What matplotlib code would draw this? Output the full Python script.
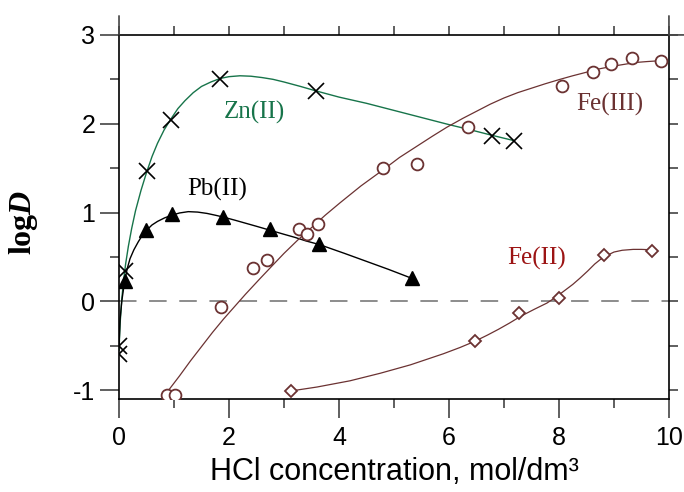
import numpy as np
import matplotlib
matplotlib.use("Agg")
import matplotlib.pyplot as plt
from matplotlib.ticker import MultipleLocator

# measured points
zn_x = [0.0, 0.0, 0.1, 0.5, 0.94, 1.84, 3.58, 6.78, 7.18]
zn_y = [-0.5, -0.59, 0.34, 1.47, 2.04, 2.50, 2.37, 1.86, 1.81]
pb_x = [0.1, 0.49, 0.96, 1.89, 2.75, 3.64, 5.32]
pb_y = [0.23, 0.80, 0.98, 0.95, 0.81, 0.65, 0.26]
fe3_x = [0.87, 1.02, 1.85, 2.43, 2.70, 3.28, 3.42, 3.61, 4.80, 5.41, 6.34, 8.05, 8.61, 8.95, 9.33, 9.85]
fe3_y = [-1.06, -1.06, -0.06, 0.38, 0.46, 0.82, 0.755, 0.87, 1.50, 1.55, 1.96, 2.42, 2.58, 2.67, 2.74, 2.71]
fe2_x = [3.12, 6.47, 7.28, 8.0, 8.81, 9.70]
fe2_y = [-1.01, -0.45, -0.13, 0.04, 0.52, 0.57]

# fitted curves
zn_fit_x = [0.0, 0.02, 0.05, 0.08, 0.12, 0.17, 0.23, 0.3, 0.4, 0.5, 0.6, 0.7, 0.82, 0.94,
            1.07, 1.2, 1.35, 1.5, 1.67, 1.84, 2.0, 2.2, 2.4, 2.6, 2.8, 3.0, 3.3, 3.58,
            4.0, 4.5, 5.0, 5.5, 6.0, 6.4, 6.78, 7.18]
zn_fit_y = [-0.55, -0.25, 0.02, 0.22, 0.42, 0.62, 0.82, 1.02, 1.25, 1.45, 1.63, 1.78, 1.93, 2.05,
            2.17, 2.26, 2.35, 2.42, 2.47, 2.51, 2.53, 2.54, 2.535, 2.52, 2.50, 2.47, 2.42, 2.37,
            2.30, 2.23, 2.15, 2.07, 1.99, 1.93, 1.87, 1.81]
pb_fit_x = [0.0, 0.02, 0.05, 0.1, 0.15, 0.2, 0.27, 0.35, 0.42, 0.5, 0.6, 0.7, 0.83, 0.96,
            1.1, 1.26, 1.43, 1.6, 1.75, 1.89, 2.1, 2.3, 2.5, 2.75, 3.0, 3.2, 3.4, 3.64, 4.1, 4.5, 4.9, 5.32]
pb_fit_y = [-0.5, -0.2, 0.0, 0.22, 0.37, 0.48, 0.58, 0.67, 0.74, 0.80, 0.86, 0.90, 0.94, 0.97,
            0.995, 1.01, 1.005, 0.99, 0.97, 0.95, 0.915, 0.88, 0.845, 0.80, 0.755, 0.72, 0.68, 0.64,
            0.54, 0.45, 0.36, 0.26]
fe3_fit_x = [0.89, 1.1, 1.3, 1.5, 1.7, 1.9, 2.1, 2.3, 2.57, 2.8, 3.0, 3.25, 3.5, 3.75, 4.02,
             4.4, 4.8, 5.1, 5.4, 5.7, 5.96, 6.25, 6.5, 6.75, 7.0, 7.25, 7.5, 7.75, 8.02, 8.25,
             8.5, 8.75, 9.0, 9.2, 9.4, 9.6, 9.85]
fe3_fit_y = [-1.01, -0.84, -0.67, -0.51, -0.35, -0.20, -0.06, 0.08, 0.26, 0.41, 0.54, 0.69, 0.83,
             0.97, 1.11, 1.30, 1.48, 1.62, 1.74, 1.86, 1.96, 2.06, 2.14, 2.22, 2.29, 2.35, 2.40,
             2.45, 2.50, 2.54, 2.58, 2.62, 2.65, 2.67, 2.69, 2.70, 2.71]
fe2_fit_x = [3.12, 3.6, 4.2, 4.75, 5.3, 5.9, 6.2, 6.47, 6.7, 6.9, 7.1, 7.3, 7.55, 7.78, 7.95,
             8.1, 8.25, 8.38, 8.52, 8.65, 8.75, 8.85, 9.0, 9.15, 9.35, 9.5, 9.70]
fe2_fit_y = [-1.01, -0.965, -0.895, -0.81, -0.715, -0.59, -0.52, -0.45, -0.38, -0.315, -0.245,
             -0.17, -0.09, -0.02, 0.05, 0.12, 0.19, 0.26, 0.34, 0.42, 0.47, 0.51, 0.555, 0.575,
             0.585, 0.585, 0.58]

green = '#17744a'
brown = '#6b3232'
darkred = '#9c1414'

plt.rcParams['font.family'] = ['Liberation Sans Narrow', 'Liberation Sans', 'DejaVu Sans']
plt.rcParams['axes.unicode_minus'] = False
plt.rcParams['mathtext.fontset'] = 'custom'
plt.rcParams['mathtext.bf'] = 'Liberation Serif:bold'
plt.rcParams['mathtext.bfit'] = 'Liberation Serif:bold:italic'
plt.rcParams['mathtext.rm'] = 'Liberation Serif'

fig = plt.figure(figsize=(6.84, 4.92), dpi=100)
ax = fig.add_axes([0.174, 0.189, 0.804, 0.740])

ax.axhline(0, color='#8c8c8c', lw=1.4, ls=(0, (9, 6.5)), zorder=1)

ax.plot(zn_fit_x, zn_fit_y, color=green, lw=1.0, zorder=2)
ax.plot(pb_fit_x, pb_fit_y, color='black', lw=1.0, zorder=2)
ax.plot(fe3_fit_x, fe3_fit_y, color=brown, lw=0.9, zorder=2)
ax.plot(fe2_fit_x, fe2_fit_y, color=brown, lw=0.9, zorder=2)

ax.plot(zn_x, zn_y, ls='none', marker='x', ms=11, mew=1.2, color='black', zorder=3)
ax.plot(pb_x, pb_y, ls='none', marker='^', ms=9.5, color='black', zorder=3)
ax.plot(fe3_x, fe3_y, ls='none', marker='o', ms=8.5, mew=1.3, mfc='white', mec=brown, zorder=3)
ax.plot(fe2_x, fe2_y, ls='none', marker='D', ms=6.5, mew=1.3, mfc='white', mec=brown, zorder=3)

tfont = dict(family='Liberation Serif', fontsize=18)
ax.text(2.46, 2.13, 'Zn(II)', color=green, ha='center', va='center', **tfont)
ax.text(1.78, 1.26, 'Pb(II)', color='black', ha='center', va='center', **tfont)
ax.text(8.93, 2.22, 'Fe(III)', color=brown, ha='center', va='center', **tfont)
ax.text(7.6, 0.48, 'Fe(II)', color=darkred, ha='center', va='center', **tfont)

ax.set_xlim(0, 10)
ax.set_ylim(-1.1, 3.0)
ax.xaxis.set_major_locator(MultipleLocator(2))
ax.xaxis.set_minor_locator(MultipleLocator(1))
ax.yaxis.set_major_locator(MultipleLocator(1))
ax.yaxis.set_minor_locator(MultipleLocator(0.5))

for s in ax.spines.values():
    s.set_linewidth(1.2)
ax.tick_params(which='both', direction='out', color='#444444', width=1.2,
               top=True, right=True, labelsize=18)
ax.tick_params(which='major', length=13.7)
ax.tick_params(which='minor', length=6.5)
ax.tick_params(axis='x', which='major', pad=6)
# top/right ticks are short
for t in ax.xaxis.get_major_ticks() + ax.xaxis.get_minor_ticks():
    t.tick2line.set_markersize(6.5)
for t in ax.yaxis.get_major_ticks() + ax.yaxis.get_minor_ticks():
    t.tick2line.set_markersize(6.5)

# corner extensions of the frame
ext = 13.7
for xy, off in [((0, 1), (0, ext)), ((1, 1), (0, ext)), ((1, 1), (ext, 0))]:
    ax.annotate('', xy=xy, xycoords='axes fraction', xytext=off,
                textcoords='offset points',
                arrowprops=dict(arrowstyle='-', lw=1.2, color='#444444',
                                shrinkA=0, shrinkB=0))

ax.set_xlabel('HCl concentration, mol/dm³', fontsize=22, labelpad=5)
ax.set_ylabel(r'$\mathbf{log}\mathbfit{D}$', fontsize=23)
ax.yaxis.set_label_coords(-0.143, 0.486)

fig.savefig('out.png', dpi=100)
